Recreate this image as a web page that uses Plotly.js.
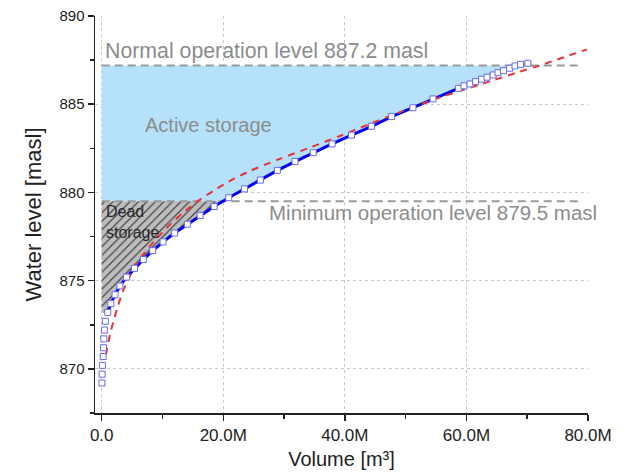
<!DOCTYPE html>
<html>
<head>
<meta charset="utf-8">
<script src="https://cdn.plot.ly/plotly-3.0.1.min.js"></script>
<style>html,body{margin:0;padding:0;background:#fff;}</style>
</head>
<body>
<div id="chart" style="width:625px;height:476px;"></div>
<script>
// Measured storage curve (volume in million m3, level in masl)
const measuredVolumeM = [0.05, 0.07, 0.12, 0.25, 0.3, 0.35, 0.45, 0.6, 1.0, 1.5, 2.2, 3.0, 4.1, 5.4, 6.85, 8.4, 10.1, 12.0, 14.1, 16.2, 18.5, 20.9, 23.5, 26.1, 28.9, 31.8, 34.8, 37.9, 41.1, 44.4, 47.7, 51.2, 54.5, 58.7, 59.6, 60.6, 61.5, 62.5, 63.4, 64.4, 65.2, 66.1, 67.1, 68.0, 68.9, 70.1];
const measuredLevel = [869.2, 869.7, 870.2, 870.7, 871.2, 871.7, 872.2, 872.7, 873.2, 873.7, 874.2, 874.7, 875.2, 875.7, 876.2, 876.7, 877.2, 877.7, 878.2, 878.7, 879.2, 879.7, 880.2, 880.7, 881.25, 881.75, 882.25, 882.75, 883.25, 883.75, 884.3, 884.8, 885.3, 885.9, 886.04, 886.15, 886.28, 886.42, 886.53, 886.66, 886.79, 886.9, 887.04, 887.17, 887.26, 887.32];

// Fitted curve (red dashed)
const fitVolumeM = [0.7, 1.4, 2.1, 2.7, 3.5, 4.7, 6.0, 8.8, 11.0, 13.4, 16.0, 18.5, 21.1, 24.3, 29.3, 34.3, 39.2, 44.1, 49.1, 54.5, 58.9, 63.9, 68.8, 72.1, 75.9, 79.8];
const fitLevel = [870.8, 872.0, 872.9, 873.6, 874.4, 875.3, 876.1, 877.3, 878.1, 878.85, 879.55, 880.12, 880.65, 881.2, 881.9, 882.55, 883.2, 883.88, 884.55, 885.25, 885.75, 886.3, 886.85, 887.2, 887.65, 888.1];

// Operation levels
const normalLevel = 887.2;
const minimumLevel = 879.5;
const deadStorageBottomLevel = 873.2;
const levelLineVolumeM = [0, 79];
const blueLineLevels = [873.2, 885.9];

// Axis ticks
const xTickValsM = [0, 20, 40, 60, 80];
const xTickText = ['0.0', '20.0M', '40.0M', '60.0M', '80.0M'];
const xMinorValsM = [10, 30, 50, 70];
const yTickVals = [870, 875, 880, 885, 890];
const yMinorVals = [867.5, 872.5, 877.5, 882.5, 887.5];

const M = 1e6;
const mVol = measuredVolumeM.map(v => v * M);

function volumeAt(level) {
  for (let i = 0; i < measuredLevel.length - 1; i++) {
    const a = measuredLevel[i], b = measuredLevel[i + 1];
    if (level >= a && level <= b) {
      const t = (level - a) / (b - a);
      return mVol[i] + t * (mVol[i + 1] - mVol[i]);
    }
  }
  return mVol[mVol.length - 1];
}

// Active storage polygon
const activeX = [0, volumeAt(minimumLevel)], activeY = [minimumLevel, minimumLevel];
measuredLevel.forEach((l, i) => { if (l > minimumLevel && l < normalLevel) { activeX.push(mVol[i]); activeY.push(l); } });
activeX.push(volumeAt(normalLevel), 0); activeY.push(normalLevel, normalLevel);

// Dead storage polygon
const deadX = [0], deadY = [deadStorageBottomLevel];
measuredLevel.forEach((l, i) => { if (l >= deadStorageBottomLevel && l < minimumLevel) { deadX.push(mVol[i]); deadY.push(l); } });
deadX.push(volumeAt(minimumLevel), 0); deadY.push(minimumLevel, minimumLevel);

// Blue line subset
const blueX = [], blueY = [];
measuredLevel.forEach((l, i) => { if (l >= blueLineLevels[0] && l <= blueLineLevels[1]) { blueX.push(mVol[i]); blueY.push(l); } });

const traces = [
  {x: activeX, y: activeY, mode: 'lines', fill: 'toself', fillcolor: '#b5e2fa', line: {width: 0}, hoverinfo: 'skip'},
  {x: deadX, y: deadY, mode: 'lines', fill: 'toself', fillcolor: '#bdbdbd',
   fillpattern: {shape: '/', bgcolor: '#bdbdbd', fgcolor: '#2a2a2a', size: 6, solidity: 0.17},
   line: {width: 0}, hoverinfo: 'skip'},
  {x: levelLineVolumeM.map(v => v * M), y: [normalLevel, normalLevel], mode: 'lines',
   line: {color: '#9a9a9a', width: 2, dash: '8px,5px'}},
  {x: levelLineVolumeM.map(v => v * M), y: [minimumLevel, minimumLevel], mode: 'lines',
   line: {color: '#9a9a9a', width: 2, dash: '8px,5px'}},
  {x: blueX, y: blueY, mode: 'lines', line: {color: '#0000ee', width: 3}},
  {x: fitVolumeM.map(v => v * M), y: fitLevel, mode: 'lines', line: {color: '#e8323a', width: 2, dash: '7px,6px', shape: 'spline', smoothing: 0.8}},
  {x: mVol, y: measuredLevel, mode: 'markers',
   marker: {symbol: 'square', size: 6, color: '#ffffff', line: {color: '#6a6ae6', width: 1}}}
];

const gridStyle = {showgrid: true, gridcolor: '#c8c8c8', gridwidth: 1, griddash: 'dot'};
const tickStyle = {ticks: 'outside', ticklen: 6, tickwidth: 1.5, tickcolor: '#222', showline: true, linecolor: '#222', linewidth: 1.5, zeroline: false};

const layout = {
  width: 625, height: 476,
  margin: {l: 95, r: 37, t: 16, b: 63},
  paper_bgcolor: '#ffffff', plot_bgcolor: '#ffffff',
  showlegend: false,
  font: {family: '"Liberation Sans", Arial, sans-serif', color: '#222'},
  xaxis: Object.assign({}, gridStyle, tickStyle, {
    range: [-1.1e6, 80e6],
    tickmode: 'array', tickvals: xTickValsM.map(v => v * M), ticktext: xTickText,
    tickfont: {size: 17, color: '#222'},
    minor: {tickmode: 'array', tickvals: xMinorValsM.map(v => v * M), ticks: 'outside', ticklen: 4, tickwidth: 1.5, tickcolor: '#222', showgrid: false},
    title: {text: 'Volume [m³]', font: {size: 20, color: '#222'}, standoff: 8}
  }),
  yaxis: Object.assign({}, gridStyle, tickStyle, {
    range: [867.5, 890],
    tickmode: 'array', tickvals: yTickVals,
    tickfont: {size: 15, color: '#222'},
    minor: {tickmode: 'array', tickvals: yMinorVals, ticks: 'outside', ticklen: 4, tickwidth: 1.5, tickcolor: '#222', showgrid: false},
    title: {text: 'Water level [masl]', font: {size: 22, color: '#222'}, standoff: 12}
  }),
  annotations: [
    {text: 'Normal operation level 887.2 masl', x: 0.2e6, y: 888.0, xref: 'x', yref: 'y', xanchor: 'left', yanchor: 'middle', showarrow: false, font: {size: 21.3, color: '#8c8c8c'}},
    {text: 'Active storage', x: 6.8e6, y: 883.8, xref: 'x', yref: 'y', xanchor: 'left', yanchor: 'middle', showarrow: false, font: {size: 20, color: '#8c8c8c'}},
    {text: 'Minimum operation level 879.5 masl', x: 27.2e6, y: 878.85, xref: 'x', yref: 'y', xanchor: 'left', yanchor: 'middle', showarrow: false, font: {size: 20.5, color: '#8c8c8c'}},
    {text: 'Dead<br>storage', x: 0.3e6, y: 878.3, xref: 'x', yref: 'y', xanchor: 'left', yanchor: 'middle', align: 'left', showarrow: false, font: {size: 16, color: '#2a2a2a'}}
  ]
};

Plotly.newPlot('chart', traces, layout, {staticPlot: true, displayModeBar: false});
</script>
</body>
</html>
